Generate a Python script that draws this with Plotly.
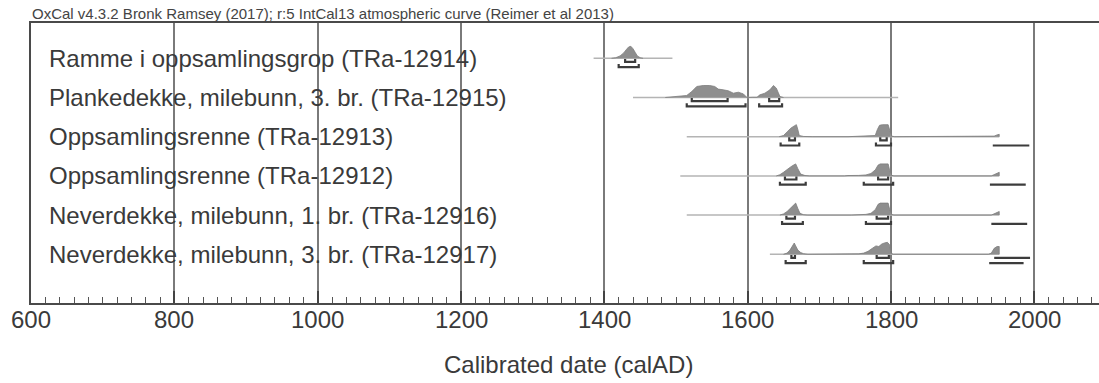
import plotly.graph_objects as go

# ---------------- data ----------------
labels = [
    "Ramme i oppsamlingsgrop (TRa-12914)",
    "Plankedekke, milebunn, 3. br. (TRa-12915)",
    "Oppsamlingsrenne (TRa-12913)",
    "Oppsamlingsrenne (TRa-12912)",
    "Neverdekke, milebunn, 1. br. (TRa-12916)",
    "Neverdekke, milebunn, 3. br. (TRa-12917)",
]

# extent of the thin baseline of each distribution (calAD)
line_start = [1385, 1440, 1515, 1506, 1515, 1631]
line_end = [1495, 1810, 1951, 1951, 1951, 1951]

# probability densities (relative)
years_1 = [1410, 1416, 1422, 1427, 1431, 1434, 1437, 1440, 1443, 1446, 1450, 1454]
dens_1 = [0, 0.05, 0.2, 0.45, 0.75, 0.95, 1.0, 0.8, 0.5, 0.2, 0.05, 0]

years_2 = [1485, 1501, 1515, 1522, 1529, 1538, 1547, 1554, 1559, 1566, 1573, 1580, 1587,
           1594, 1599, 1607, 1613, 1617, 1624, 1631, 1636, 1640, 1645, 1650]
dens_2 = [0, 0.08, 0.17, 0.5, 0.92, 1.0, 1.0, 0.92, 0.7, 0.64, 0.56, 0.36, 0.44,
          0.3, 0, 0.02, 0.02, 0.22, 0.36, 0.64, 1.0, 0.78, 0.08, 0]

years_3 = [1644, 1650, 1655, 1660, 1665, 1668, 1670, 1672, 1678, 1690,
           1740, 1765, 1778, 1781, 1784, 1788, 1796, 1799, 1801, 1805,
           1938, 1944, 1948, 1951]
dens_3 = [0, 0.1, 0.4, 0.7, 0.9, 1.0, 0.6, 0.1, 0.02, 0,
          0, 0.03, 0.1, 0.6, 0.95, 1.0, 1.0, 0.4, 0.05, 0,
          0, 0.05, 0.15, 0.2]

years_4 = [1640, 1645, 1650, 1655, 1660, 1664, 1667, 1670, 1674, 1680, 1686,
           1735, 1740, 1755, 1765, 1772, 1778, 1782, 1785, 1796, 1798, 1801, 1804,
           1940, 1944, 1948, 1951]
dens_4 = [0, 0.1, 0.3, 0.55, 0.75, 0.9, 1.0, 0.6, 0.15, 0.03, 0,
          0, 0.03, 0.04, 0.08, 0.2, 0.5, 0.9, 1.0, 1.0, 0.5, 0.05, 0,
          0, 0.1, 0.25, 0.3]

years_5 = [1645, 1650, 1655, 1660, 1664, 1667, 1670, 1673, 1678, 1683,
           1745, 1755, 1765, 1772, 1778, 1782, 1785, 1796, 1798, 1801, 1804,
           1940, 1944, 1948, 1951]
dens_5 = [0, 0.1, 0.3, 0.6, 0.85, 1.0, 0.55, 0.15, 0.03, 0,
          0, 0.03, 0.06, 0.15, 0.45, 0.9, 1.0, 1.0, 0.5, 0.05, 0,
          0, 0.1, 0.25, 0.3]

years_6 = [1650, 1655, 1659, 1662, 1665, 1667, 1670, 1674, 1678, 1684,
           1735, 1740, 1755, 1762, 1768, 1774, 1779, 1783, 1787, 1791, 1795, 1798, 1800, 1803,
           1936, 1940, 1944, 1948, 1951]
dens_6 = [0, 0.1, 0.35, 0.7, 0.94, 0.7, 0.35, 0.15, 0.05, 0,
          0, 0.02, 0.04, 0.1, 0.25, 0.5, 0.7, 0.65, 0.85, 0.95, 1.0, 0.8, 0.1, 0,
          0, 0.1, 0.5, 0.65, 0.65]

years_all = [years_1, years_2, years_3, years_4, years_5, years_6]
dens_all = [dens_1, dens_2, dens_3, dens_4, dens_5, dens_6]

# highest probability density ranges (68.2% and 95.4%)
ranges_68 = [
    [(1429, 1443)],
    [(1522, 1572), (1630, 1644)],
    [(1658, 1666), (1785, 1794)],
    [(1652, 1668), (1782, 1796)],
    [(1654, 1666), (1780, 1796)],
    [(1661, 1666), (1780, 1797), (1944, 1994)],
]
ranges_95 = [
    [(1420, 1448)],
    [(1515, 1597), (1616, 1648)],
    [(1646, 1672), (1779, 1800), (1942, 1993)],
    [(1645, 1681), (1762, 1803), (1938, 1988)],
    [(1648, 1677), (1765, 1800), (1940, 1990)],
    [(1653, 1681), (1762, 1803), (1937, 1985)],
]

x_ticks = [600, 800, 1000, 1200, 1400, 1600, 1800, 2000]
tick_labels = ["600", "800", "1000", "1200", "1400", "1600", "1800", "2000"]
title_text = "OxCal v4.3.2 Bronk Ramsey (2017); r:5 IntCal13 atmospheric curve (Reimer et al 2013)"
x_title = "Calibrated date (calAD)"

# ---------------- layout constants ----------------
W, H = 1099, 383
M_L, M_R, M_T, M_B = 31, 0, 23, 80
ROW_PX = 39.2                 # pixels between rows
FIRST_ROW_PX = 58.3           # pixel y of first baseline
plot_h = H - M_T - M_B
y_top = (M_T - FIRST_ROW_PX) / ROW_PX
y_bot = (M_T + plot_h - FIRST_ROW_PX) / ROW_PX
PEAK = 12 / ROW_PX
OFF68 = 3.6 / ROW_PX
OFF95 = 8.8 / ROW_PX
CAP = 3.0 / ROW_PX

FONT = "Arial, 'Liberation Sans', sans-serif"
TXT = "#3a3a3a"

fig = go.Figure()

# baselines
for i in range(len(labels)):
    fig.add_trace(go.Scatter(x=[line_start[i], line_end[i]], y=[i, i], mode="lines",
                             line=dict(color="#b4b4b4", width=1.5), hoverinfo="skip",
                             showlegend=False))

# densities
for i in range(len(labels)):
    xs = list(years_all[i])
    ys = [i - d * PEAK for d in dens_all[i]]
    xs = [xs[0]] + xs + [xs[-1]]
    ys = [i] + ys + [i]
    fig.add_trace(go.Scatter(x=xs, y=ys, mode="lines", fill="toself",
                             fillcolor="#8e8e8e", line=dict(color="#7e7e7e", width=0.8),
                             hoverinfo="skip", showlegend=False))

# range brackets
bx, by = [], []
for i in range(len(labels)):
    for off, rngs in ((OFF68, ranges_68[i]), (OFF95, ranges_95[i])):
        yb = i + off
        for a, b in rngs:
            if b > 1950:
                bx += [a, b, None]
                by += [yb, yb, None]
            else:
                bx += [a, a, b, b, None]
                by += [yb - CAP, yb, yb, yb - CAP, None]
fig.add_trace(go.Scatter(x=bx, y=by, mode="lines", line=dict(color="#3c3c3c", width=2.2),
                         hoverinfo="skip", showlegend=False))

# row labels
for i, lab in enumerate(labels):
    fig.add_annotation(x=622, y=i, xref="x", yref="y", text=lab, showarrow=False,
                       xanchor="left", yanchor="middle", yshift=0,
                       font=dict(family=FONT, size=24, color=TXT))

# x tick labels
for v, t in zip(x_ticks, tick_labels):
    fig.add_annotation(x=v, y=0, xref="x", yref="paper", text=t, showarrow=False,
                       xanchor="center", yanchor="middle", yshift=-16,
                       font=dict(family=FONT, size=24, color=TXT))

# title and axis title
fig.add_annotation(x=0, y=1, xref="paper", yref="paper", text=title_text, showarrow=False,
                   xanchor="left", yanchor="middle", yshift=10, xshift=-1,
                   font=dict(family=FONT, size=15, color="#444"))
fig.add_annotation(x=1350, y=0, xref="x", yref="paper", text=x_title, showarrow=False,
                   xanchor="center", yanchor="middle", yshift=-61,
                   font=dict(family=FONT, size=24, color=TXT))

fig.update_xaxes(range=[600, 600 + (W - M_L - M_R) / 0.71667], tickvals=x_ticks,
                 showticklabels=False,
                 ticks="inside", ticklen=12, tickwidth=2, tickcolor="#444",
                 showgrid=True, gridcolor="#7a7a7a", gridwidth=1.5,
                 showline=True, linecolor="#4a4a4a", linewidth=2, mirror=True,
                 zeroline=False,
                 minor=dict(dtick=20, tick0=600, ticks="inside", ticklen=6, tickwidth=1,
                            tickcolor="#555", showgrid=False))
fig.update_yaxes(range=[y_bot, y_top], showticklabels=False, ticks="", showgrid=False,
                 zeroline=False, showline=True, linecolor="#4a4a4a", linewidth=2)

fig.update_layout(width=W, height=H, margin=dict(l=M_L, r=M_R, t=M_T, b=M_B),
                  plot_bgcolor="white", paper_bgcolor="white", showlegend=False)

fig.write_html("out.html", config={"displayModeBar": False},
               post_script="document.body.style.margin='0';document.body.style.padding='0';")
